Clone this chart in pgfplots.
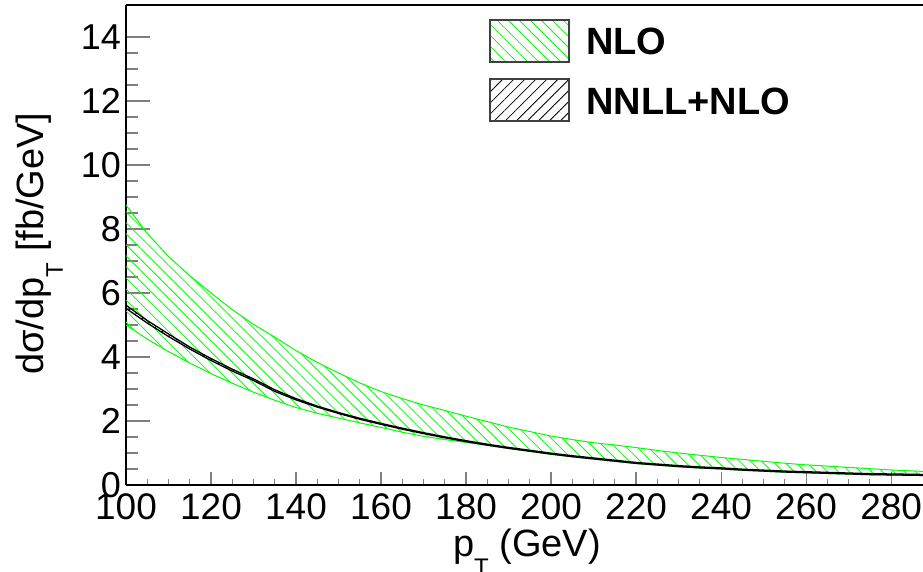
\documentclass[border=0pt]{standalone}
\usepackage{fontspec}
\setmainfont{Liberation Sans}
\usepackage{pgfplots}
\pgfplotsset{compat=1.18}
\usepackage{pgfplotstable}
\usepgfplotslibrary{fillbetween}
\usetikzlibrary{patterns.meta}
\newcommand\sub[1]{\raisebox{-19pt}{\fontsize{24}{24}\selectfont #1}}

\pgfplotstableread{
x   U    L    B1    B2
100 8.75 5.00 5.62 5.52
105 7.86 4.56 5.14 5.06
110 7.14 4.17 4.72 4.64
115 6.54 3.81 4.31 4.25
120 6.00 3.48 3.95 3.89
125 5.48 3.18 3.62 3.56
130 5.02 2.90 3.315 3.265
135 4.62 2.65 2.975 2.925
140 4.20 2.42 2.70 2.66
145 3.83 2.24 2.465 2.435
150 3.50 2.09 2.265 2.235
155 3.19 1.94 2.085 2.055
160 2.92 1.80 1.925 1.895
165 2.70 1.65 1.775 1.745
170 2.50 1.52 1.635 1.605
175 2.33 1.42 1.505 1.475
180 2.15 1.33 1.385 1.355
185 1.98 1.24 1.275 1.245
190 1.81 1.14 1.175 1.145
195 1.67 1.05 1.085 1.055
200 1.53 0.96 0.995 0.965
205 1.42 0.88 0.915 0.885
210 1.32 0.81 0.845 0.815
215 1.25 0.74 0.775 0.745
220 1.17 0.67 0.705 0.675
225 1.08 0.62 0.655 0.625
230 1.00 0.57 0.605 0.575
235 0.93 0.53 0.565 0.535
240 0.86 0.50 0.535 0.505
245 0.80 0.46 0.495 0.465
250 0.74 0.43 0.465 0.435
255 0.68 0.40 0.435 0.405
260 0.63 0.38 0.415 0.385
265 0.59 0.36 0.395 0.365
270 0.55 0.34 0.375 0.345
275 0.51 0.32 0.355 0.325
280 0.47 0.31 0.345 0.315
285 0.44 0.30 0.335 0.305
290 0.41 0.29 0.325 0.295
}\data

\begin{document}
\begin{tikzpicture}
\begin{axis}[
  at={(0,0)}, anchor=south west,
  scale only axis, width=797pt, height=480pt,
  xmin=100, xmax=287.5, ymin=0, ymax=15,
  axis lines=left,
  axis line style={-, line width=1.5pt},
  x axis line style={-}, y axis line style={-},
  tick align=inside,
  xtick={100,120,...,280}, ytick={0,2,...,14},
  minor x tick num=3, minor y tick num=3,
  xtick style={line width=1.2pt, /pgfplots/major tick length=13pt, /pgfplots/minor tick length=6pt},
  ytick style={line width=1.2pt, /pgfplots/major tick length=24pt, /pgfplots/minor tick length=12pt},
  /pgf/number format/assume math mode=true,
  xticklabel style={font=\fontsize{37}{40}\selectfont, inner sep=0pt, anchor=north, yshift=-8pt},
  yticklabel style={font=\fontsize{36}{38}\selectfont, inner sep=0pt, anchor=east, xshift=-5pt},
  xlabel={p\sub{T} (GeV)},
  ylabel={dσ/dp\sub{T} [fb/GeV]},
  xlabel style={font=\fontsize{38}{40}\selectfont, inner sep=0pt, anchor=base, at={(axis description cs:0.503,-0.148)}},
  ylabel style={font=\fontsize{38}{40}\selectfont, inner sep=0pt, anchor=base, at={(axis description cs:-0.1029,0.503)}},
]
\addplot[name path=U, draw=green, line width=1pt] table[x=x, y=U] {\data};
\addplot[name path=L, draw=green, line width=1pt] table[x=x, y=L] {\data};
\addplot[draw=none, pattern={Lines[angle=-45, distance=7.8pt, line width=0.8pt]}, pattern color=green] fill between[of=U and L];
\addplot[name path=B1, draw=black, line width=1.3pt] table[x=x, y=B1] {\data};
\addplot[name path=B2, draw=black, line width=1.3pt] table[x=x, y=B2] {\data};
\addplot[draw=none, pattern={Lines[angle=45, distance=7.8pt, line width=0.8pt]}, pattern color=black] fill between[of=B1 and B2];
\end{axis}
\draw[line width=1.5pt] (0,480pt) -- (797pt,480pt);
% legend
\draw[draw=black!75, line width=1.2pt, pattern={Lines[angle=-45, distance=7.8pt, line width=0.8pt]}, pattern color=green] (364pt,423pt) rectangle (443pt,465pt);
\draw[draw=black!75, line width=1.2pt, pattern={Lines[angle=45, distance=7.8pt, line width=0.8pt]}, pattern color=black] (364pt,364pt) rectangle (443pt,406pt);
\node[anchor=base west, inner sep=0pt, font=\fontsize{38}{40}\selectfont\bfseries] at (460pt,430pt) {NLO};
\node[anchor=base west, inner sep=0pt, font=\fontsize{38}{40}\selectfont\bfseries] at (460pt,370pt) {NNLL+NLO};
\pgfresetboundingbox
\useasboundingbox (-126pt,-86pt) rectangle (797pt,485pt);
\end{tikzpicture}
\end{document}
